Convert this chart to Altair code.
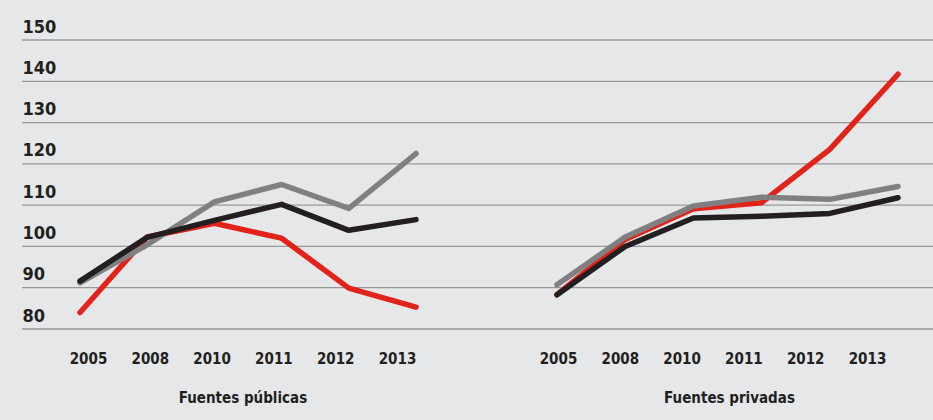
import altair as alt
import pandas as pd

# Years on the horizontal axis of each panel
years = ["2005", "2008", "2010", "2011", "2012", "2013"]

# Series (drawing order: red first, black on top)
series_names = ["rojo", "gris", "negro"]
series_colors = ["#e2231a", "#808083", "#231f20"]

# Fuentes públicas
publicas_rojo = [84.0, 102.3, 105.6, 102.0, 89.9, 85.3]
publicas_gris = [91.2, 100.4, 110.8, 115.0, 109.2, 122.5]
publicas_negro = [91.6, 102.2, 106.3, 110.2, 103.9, 106.5]

# Fuentes privadas
privadas_rojo = [88.3, 101.7, 109.1, 110.6, 123.5, 141.7]
privadas_gris = [90.7, 102.3, 109.8, 111.9, 111.4, 114.5]
privadas_negro = [88.3, 100.0, 106.9, 107.3, 108.0, 111.8]

y_ticks = [80, 90, 100, 110, 120, 130, 140, 150]

FONT = "Noto Sans Condensed, DejaVu Sans Condensed, Liberation Sans, sans-serif"
INK = "#231f20"


def long_table(values_by_series):
    rows = []
    for name, vals in zip(series_names, values_by_series):
        for year, v in zip(years, vals):
            rows.append({"serie": name, "año": year, "valor": v})
    return pd.DataFrame(rows)


df_pub = long_table([publicas_rojo, publicas_gris, publicas_negro])
df_priv = long_table([privadas_rojo, privadas_gris, privadas_negro])
df_years = pd.DataFrame({"año": years})
df_grid = pd.DataFrame({"valor": y_ticks})

y_scale = alt.Scale(domain=[80, 150], nice=False, zero=False)

y_enc = alt.Y(
    "valor:Q",
    scale=y_scale,
    axis=alt.Axis(
        values=y_ticks,
        title=None,
        grid=False,
        domain=False,
        ticks=False,
        labelAlign="left",
        labelBaseline="alphabetic",
        labelPadding=0,
        labelOffset=-8,
        labelFlush=False,
        labelFont=FONT,
        labelFontSize=18,
        labelFontWeight=800,
        labelColor=INK,
    ),
)

color_enc = alt.Color(
    "serie:N",
    scale=alt.Scale(domain=series_names, range=series_colors),
    legend=None,
)

# Horizontal gridlines across both panels
grid = alt.Chart(df_grid).mark_rule(color="#97989a", strokeWidth=1.3).encode(
    y=y_enc
)


def series_lines(df, x_range):
    return alt.Chart(df).mark_line(
        strokeWidth=5.5, strokeCap="round", strokeJoin="round"
    ).encode(
        x=alt.X("año:O", sort=years, axis=None,
                scale=alt.Scale(type="point", range=x_range, padding=0)),
        y=y_enc,
        color=color_enc,
    )


def year_axis(title, x_range, **extra):
    return alt.Chart(df_years).mark_point(opacity=0).encode(
        x=alt.X(
            "año:O",
            sort=years,
            scale=alt.Scale(type="point", range=x_range, padding=0),
            axis=alt.Axis(
                orient="bottom",
                title=title,
                domain=False,
                ticks=False,
                grid=False,
                labelAngle=0,
                labelBaseline="middle",
                labelPadding=29,
                labelFont=FONT,
                labelFontSize=15,
                labelFontWeight=800,
                labelColor=INK,
                titleFont=FONT,
                titleFontSize=15,
                titleFontWeight=800,
                titleColor=INK,
                titlePadding=24,
                **extra,
            ),
        ),
        y=alt.value(0),
    )


chart = alt.layer(
    grid,
    series_lines(df_pub, [58, 394]),
    series_lines(df_priv, [535, 876]),
    year_axis("Fuentes públicas", [66, 375]),
    year_axis("Fuentes privadas", [536, 845], titleX=707),
).resolve_scale(
    x="independent"
).properties(
    width=911,
    height=289,
    padding={"left": 22, "top": 40, "right": 0, "bottom": 91},
    autosize=alt.AutoSizeParams(type="none"),
    background="#e6e7e9",
).configure_view(
    stroke=None
)

chart.save("out.html", embed_options={"renderer": "svg", "actions": False})
